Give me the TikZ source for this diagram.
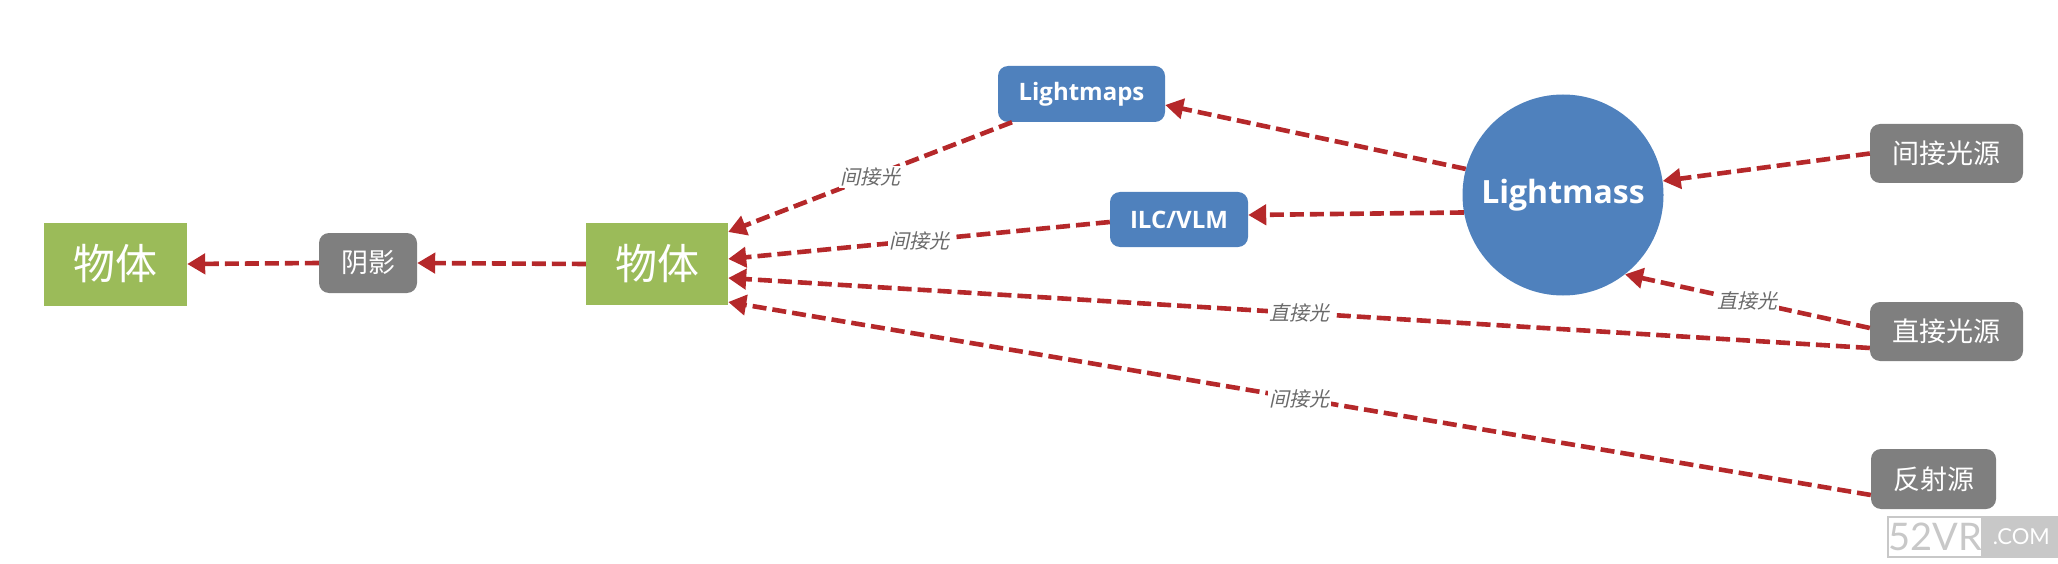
\documentclass[tikz,border=0pt]{standalone}
\usepackage{fontspec}
\newfontfamily\cjk{Noto Sans CJK SC}
\newfontfamily\cjkit[FakeSlant=0.22]{Noto Sans CJK SC}
\newfontfamily\osans{Open Sans}
\newfontfamily\wmfont{Lato}
\usetikzlibrary{arrows.meta}
\definecolor{objgreen}{HTML}{9BBB59}
\definecolor{srcgrey}{HTML}{7F7F7F}
\definecolor{procblue}{HTML}{4F81BD}
\definecolor{linkred}{HTML}{B5282A}
\definecolor{lblgrey}{HTML}{6A6A6A}
\definecolor{wmgrey}{HTML}{C8C8C8}
\tikzset{
  objbox/.style={rectangle, fill=objgreen, text=white, inner sep=0pt, minimum width=143pt, minimum height=83pt, font=\cjk\fontsize{42}{48}\selectfont},
  srcbox/.style={rectangle, rounded corners=10pt, fill=srcgrey, text=white, inner sep=0pt, minimum height=59pt, font=\cjk\fontsize{27}{32}\selectfont},
  procbox/.style={rectangle, rounded corners=10pt, fill=procblue, text=white, inner sep=0pt, minimum height=56pt, font=\osans\bfseries\fontsize{24}{28}\selectfont},
  link/.style={draw=linkred, line width=4.6pt, dash pattern=on 14pt off 6pt, -{Triangle[length=18pt,width=20pt]}},
  lbl/.style={fill=white, inner sep=1.5pt, text=lblgrey, font=\cjkit\fontsize{20}{24}\selectfont, pos=0.5}
}
\begin{document}
\begin{tikzpicture}[x=1pt,y=-1pt]
\useasboundingbox (0,0) rectangle (2058,564);
% nodes
\node[objbox] (obj1) at (115.5,264) {物体};
\node[srcbox, minimum width=98pt, minimum height=60pt] (shadow) at (368,263) {阴影};
\node[objbox, minimum width=142pt, minimum height=82pt] (obj2) at (657,264) {物体};
\node[procbox, minimum width=167pt] (lm) at (1081.5,94) {Lightmaps};
\node[procbox, minimum width=138pt, minimum height=55pt] (ilc) at (1179,219.5) {ILC/VLM};
\node[circle, fill=procblue, text=white, inner sep=0pt, minimum size=201pt, font=\osans\bfseries\fontsize{32}{36}\selectfont] (mass) at (1563,195) {Lightmass};
\node[srcbox, minimum width=153pt] (ind) at (1946.5,153.5) {间接光源};
\node[srcbox, minimum width=153pt] (dir) at (1946.5,331.5) {直接光源};
\node[srcbox, minimum width=125pt, minimum height=60pt] (refl) at (1933.5,479) {反射源};
% watermark
\node[rectangle, draw=wmgrey, line width=2pt, fill=white, inner sep=0pt, minimum width=84pt, minimum height=40pt, text=wmgrey, font=\wmfont\fontsize{38}{40}\selectfont] (wma) at (1935,537) {52VR};
\node[rectangle, draw=wmgrey, line width=2pt, fill=wmgrey, inner sep=0pt, minimum width=75pt, minimum height=40pt, text=white, font=\wmfont\fontsize{22}{24}\selectfont, anchor=west] (wmb) at (wma.east) {.COM};
% connectors
\draw[link] (shadow.west) -- (obj1.east);
\draw[link] (obj2.west) -- (shadow.east);
\draw[link] ([xshift=-69.5pt]lm.south) -- node[lbl] {间接光} ([yshift=32pt]obj2.east);
\draw[link] ([yshift=-2.5pt]ilc.west) -- node[lbl] {间接光} ([yshift=5pt]obj2.east);
\draw[link] ([yshift=-16.5pt]dir.west) -- node[lbl] {直接光} ([yshift=-14pt]obj2.east);
\draw[link] ([yshift=-16pt]refl.west) -- node[lbl] {间接光} ([yshift=-38pt]obj2.east);
\draw[link] (mass.165) -- ([yshift=-11pt]lm.east);
\draw[link] (mass.190) -- ([yshift=4.5pt]ilc.east);
\draw[link] (ind.west) -- (mass.8);
\draw[link] ([yshift=3.5pt]dir.west) -- node[lbl] {直接光} (mass.-52);
\end{tikzpicture}
\end{document}
